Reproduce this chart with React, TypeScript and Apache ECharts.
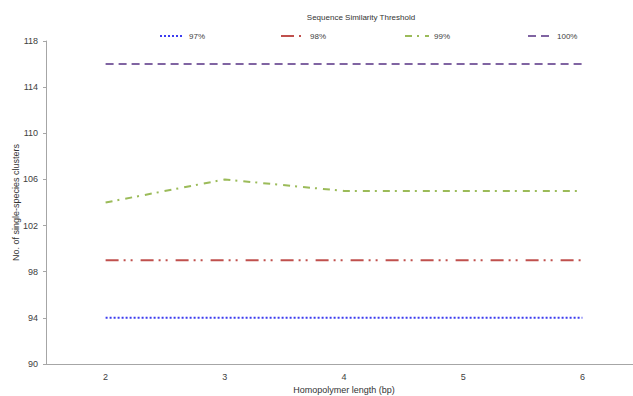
import React, { useEffect, useRef } from "react";
import * as echarts from "echarts";

const categories = ["2", "3", "4", "5", "6"];
const s97 = [94, 94, 94, 94, 94];
const s98 = [99, 99, 99, 99, 99];
const s99 = [104, 106, 105, 105, 105];
const s100 = [116, 116, 116, 116, 116];
const yTicks = [90, 94, 98, 102, 106, 110, 114, 118];

const FONT = "Liberation Sans, Arial, sans-serif";

export default function App() {
  const ref = useRef<HTMLDivElement>(null);
  useEffect(() => {
    const chart = echarts.init(ref.current!, null, { renderer: "svg" });
    const mkLegend = (name: string, left: number) => ({
      data: [name],
      left,
      top: 27,
      itemWidth: 24,
      itemHeight: 10,
      itemGap: 4,
      itemStyle: { opacity: 0 },
      textStyle: { fontSize: 8, color: "#404040", fontFamily: FONT },
    });
    const series = [
      { name: "97%", data: s97, color: "#3c3cf0", dash: [2, 2], width: 2 },
      { name: "98%", data: s98, color: "#c0504d", dash: [13, 5, 2, 5, 2, 8], width: 2 },
      { name: "99%", data: s99, color: "#9bbb59", dash: [7, 5, 2, 6], width: 2 },
      { name: "100%", data: s100, color: "#8064a2", dash: [8, 5], width: 2 },
    ].map((s) => ({
      type: "line",
      name: s.name,
      data: s.data,
      showSymbol: false,
      symbol: "none",
      color: s.color,
      lineStyle: { color: s.color, width: s.width, type: s.dash },
    }));
    chart.setOption({
      animation: false,
      title: {
        text: "Sequence Similarity Threshold",
        left: 356,
        textAlign: "center",
        top: 8,
        textStyle: { fontSize: 8, fontWeight: "normal", color: "#333", fontFamily: FONT },
      },
      legend: [
        mkLegend("97%", 154),
        mkLegend("98%", 275),
        mkLegend("99%", 399),
        mkLegend("100%", 522),
      ],
      grid: { left: 46, right: -9, top: 41, bottom: 32, containLabel: false, outerBoundsMode: "none" },
      xAxis: {
        type: "category",
        data: categories,
        boundaryGap: true,
        name: "Homopolymer length (bp)",
        nameLocation: "middle",
        nameGap: 21,
        nameTextStyle: { fontSize: 9, color: "#333", fontFamily: FONT },
        axisLine: { lineStyle: { color: "#a6a6a6", width: 1 } },
        axisTick: { show: false },
        axisLabel: { fontSize: 9, color: "#404040", fontFamily: FONT, margin: 8 },
        splitLine: { show: false },
      },
      yAxis: {
        type: "value",
        min: 90,
        max: 118,
        name: "No. of single-species clusters",
        nameLocation: "middle",
        nameGap: 26,
        nameMoveOverlap: false,
        nameTextStyle: { fontSize: 9, color: "#333", fontFamily: FONT },
        axisLine: { show: true, lineStyle: { color: "#a6a6a6", width: 1 } },
        axisTick: { show: true, length: 3, lineStyle: { color: "#a6a6a6" }, customValues: yTicks },
        axisLabel: { fontSize: 9, color: "#404040", fontFamily: FONT, margin: 8, customValues: yTicks },
        splitLine: { show: false },
      },
      series,
    });
    return () => chart.dispose();
  }, []);
  return <div ref={ref} style={{ width: 633, height: 396, position: "absolute", left: 0, top: 0 }} />;
}
